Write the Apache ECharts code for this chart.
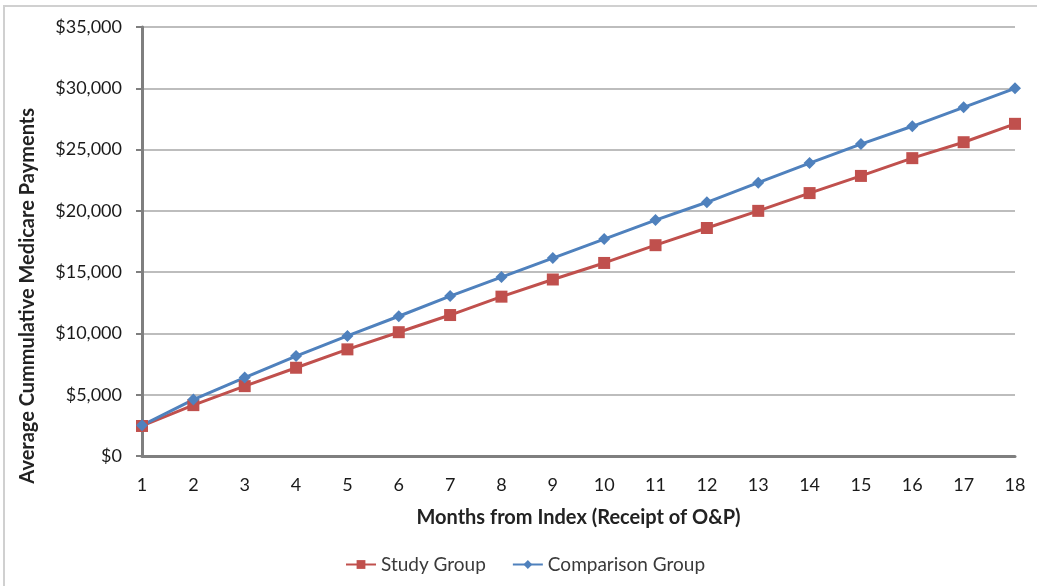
<!DOCTYPE html>
<html><head><meta charset="utf-8">
<script src="https://cdn.jsdelivr.net/npm/echarts@6/dist/echarts.min.js"></script>
<style>
html,body{margin:0;padding:0;background:#fff;overflow:hidden;}
#frame{position:absolute;left:3px;top:5px;width:1040px;height:590px;border:2px solid #d0d0d0;box-sizing:border-box;}
#chart{position:absolute;left:0;top:0;width:1037px;height:586px;}
</style></head>
<body>
<div id="frame"></div>
<div id="chart"></div>
<script>
const months = ['1','2','3','4','5','6','7','8','9','10','11','12','13','14','15','16','17','18'];
const studyGroup = [2450,4150,5700,7200,8700,10100,11500,13000,14400,15750,17200,18600,20000,21450,22850,24300,25600,27100];
const comparisonGroup = [2500,4600,6400,8150,9800,11400,13050,14600,16150,17700,19250,20700,22300,23900,25450,26900,28450,30000];
const yTicks = [0,5000,10000,15000,20000,25000,30000,35000];
const yTitle = 'Average Cummulative Medicare Payments';
const xTitle = 'Months from Index (Receipt of O&P)';

const font = 'Lato, "Open Sans", sans-serif';
const chart = echarts.init(document.getElementById('chart'), null, {renderer:'canvas'});
chart.setOption({
  animation:false,
  backgroundColor:'transparent',
  grid:{left:142,right:22,top:27,bottom:130,containLabel:false},
  legend:{
    top:550,left:340,itemWidth:30,itemHeight:11,itemGap:26,
    textStyle:{fontFamily:font,fontSize:19,color:'#3a3a3a'},
    data:['Study Group','Comparison Group']
  },
  graphic:[{
    type:'text',left:18,top:108,rotation:Math.PI/2,
    style:{text:yTitle,fontFamily:font,fontSize:20,fontWeight:'bold',fill:'#222'}
  }],
  xAxis:{
    type:'category',data:months,boundaryGap:false,
    name:xTitle,nameLocation:'middle',nameGap:52,
    nameTextStyle:{fontFamily:font,fontSize:20,fontWeight:'bold',color:'#222'},
    axisLine:{lineStyle:{color:'#7f7f7f',width:3}},
    axisTick:{show:false},
    axisLabel:{fontFamily:font,fontSize:18,color:'#1a1a1a',margin:20},
    splitLine:{show:false}
  },
  yAxis:{
    type:'value',min:yTicks[0],max:yTicks[yTicks.length-1],interval:5000,
    axisLine:{show:true,lineStyle:{color:'#7f7f7f',width:3}},
    axisTick:{show:true,length:6,lineStyle:{color:'#7f7f7f',width:2}},
    axisLabel:{fontFamily:font,fontSize:18,color:'#1a1a1a',margin:20,
      formatter:v=>'$'+v.toLocaleString('en-US')},
    splitLine:{lineStyle:{color:'#bdbdbd',width:2}}
  },
  series:[
    {name:'Study Group',type:'line',data:studyGroup,symbol:'rect',symbolSize:12,
     itemStyle:{color:'#C0504D'},lineStyle:{color:'#C0504D',width:3}},
    {name:'Comparison Group',type:'line',data:comparisonGroup,symbol:'diamond',symbolSize:12,
     itemStyle:{color:'#4F81BD'},lineStyle:{color:'#4F81BD',width:3}}
  ]
});
</script>
</body></html>
